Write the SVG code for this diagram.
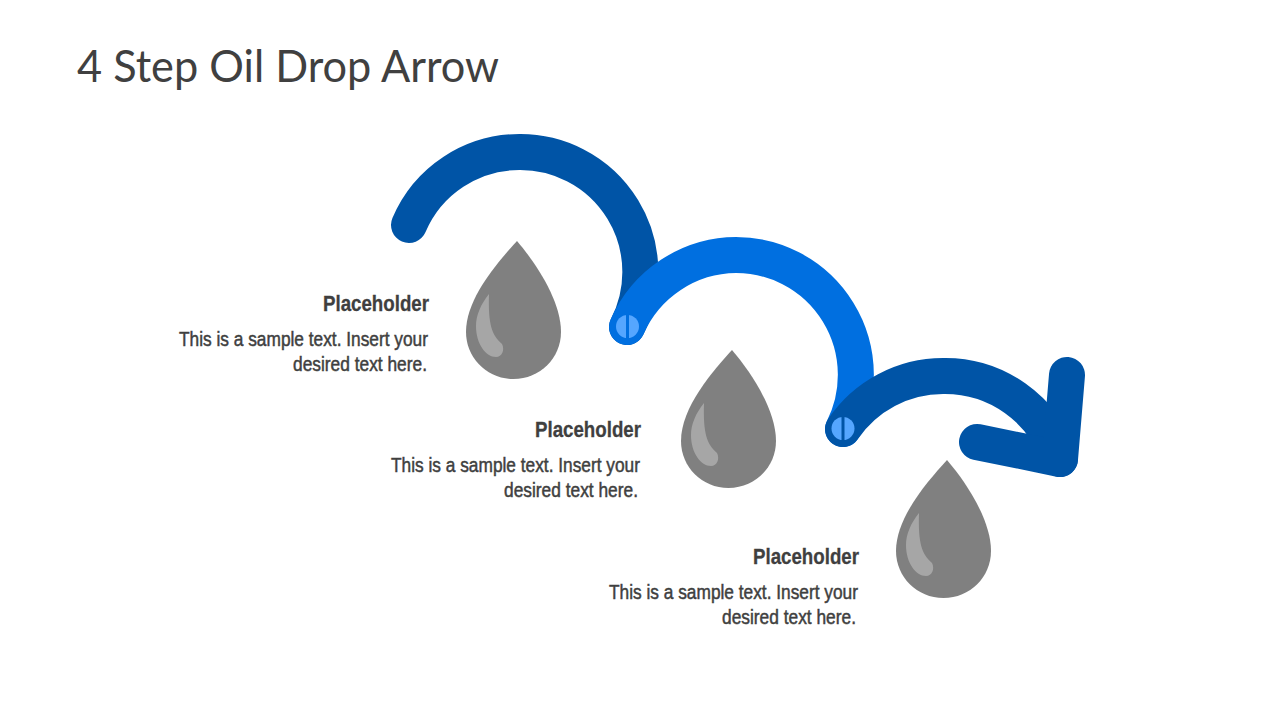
<svg xmlns="http://www.w3.org/2000/svg" xmlns:xlink="http://www.w3.org/1999/xlink" width="1280" height="720" viewBox="0 0 1280 720">
<style>
.arc{fill:none;stroke-width:36;stroke-linecap:round;stroke-linejoin:round}
.dark{stroke:#0054A6}
.mid{stroke:#006FE0}
.h{font:700 21.5px "Liberation Sans",sans-serif;fill:#3F3F3F;stroke:#3F3F3F;stroke-width:.3}
.b{font:400 20.5px "Liberation Sans",sans-serif;fill:#3F3F3F;stroke:#3F3F3F;stroke-width:.5}
.t{font:400 44px Lato,"Open Sans",sans-serif;fill:#404040}
.drop{fill:#808080}
.shine{fill:#A6A6A6}
.dot{fill:#55A6FF}
</style>
<defs>
<g id="oil">
<path class="drop" d="M517,241 C535,262 561,300 561,332 C561,358 540,379 513.5,379 C487,379 466,358 466,332 C466,298 498,262 517,241 Z"/>
<path class="shine" d="M489,294 C481,304 476,315 476,326 C476,344 486,357 496,357 C502,357 505,350 502,344 C492,335 488,325 489,294 Z"/>
</g>
</defs>
<rect width="1280" height="720" fill="#FFFFFF"/>
<text class="t" x="77" y="82" textLength="422" lengthAdjust="spacingAndGlyphs">4 Step Oil Drop Arrow</text>
<g id="connectors">
<path class="arc dark" d="M409,225 A120,120 0 0 1 520,152 A120,120 0 0 1 627,327"/>
<path class="arc mid" d="M627,327 A120,120 0 0 1 736,255 A120,120 0 0 1 843,429"/>
<path class="arc dark" d="M843,429 A121,121 0 0 1 943,376 A121,121 0 0 1 1060,459"/>
<path class="arc dark" d="M1067,375 L1060,459 L977,442"/>
</g>
<g id="joint-1"><circle class="dot" cx="627.5" cy="326.5" r="11.5"/><rect x="626" y="315" width="3" height="23" fill="#006FE0"/></g>
<g id="joint-2"><circle class="dot" cx="843" cy="428.5" r="11.5"/><rect x="841.5" y="417" width="3" height="23" fill="#0054A6"/></g>
<g id="step-1">
<use xlink:href="#oil"/>
<text class="h" x="323" y="311" textLength="106" lengthAdjust="spacingAndGlyphs">Placeholder</text>
<text class="b" x="179" y="346" textLength="249" lengthAdjust="spacingAndGlyphs">This is a sample text. Insert your</text>
<text class="b" x="293" y="371" textLength="134" lengthAdjust="spacingAndGlyphs">desired text here.</text>
</g>
<g id="step-2">
<use xlink:href="#oil" x="215" y="109"/>
<text class="h" x="535" y="437" textLength="106" lengthAdjust="spacingAndGlyphs">Placeholder</text>
<text class="b" x="391" y="472" textLength="249" lengthAdjust="spacingAndGlyphs">This is a sample text. Insert your</text>
<text class="b" x="504" y="497" textLength="134" lengthAdjust="spacingAndGlyphs">desired text here.</text>
</g>
<g id="step-3">
<use xlink:href="#oil" x="430" y="219"/>
<text class="h" x="753" y="564" textLength="106" lengthAdjust="spacingAndGlyphs">Placeholder</text>
<text class="b" x="609" y="599" textLength="249" lengthAdjust="spacingAndGlyphs">This is a sample text. Insert your</text>
<text class="b" x="722" y="624" textLength="134" lengthAdjust="spacingAndGlyphs">desired text here.</text>
</g>
</svg>
